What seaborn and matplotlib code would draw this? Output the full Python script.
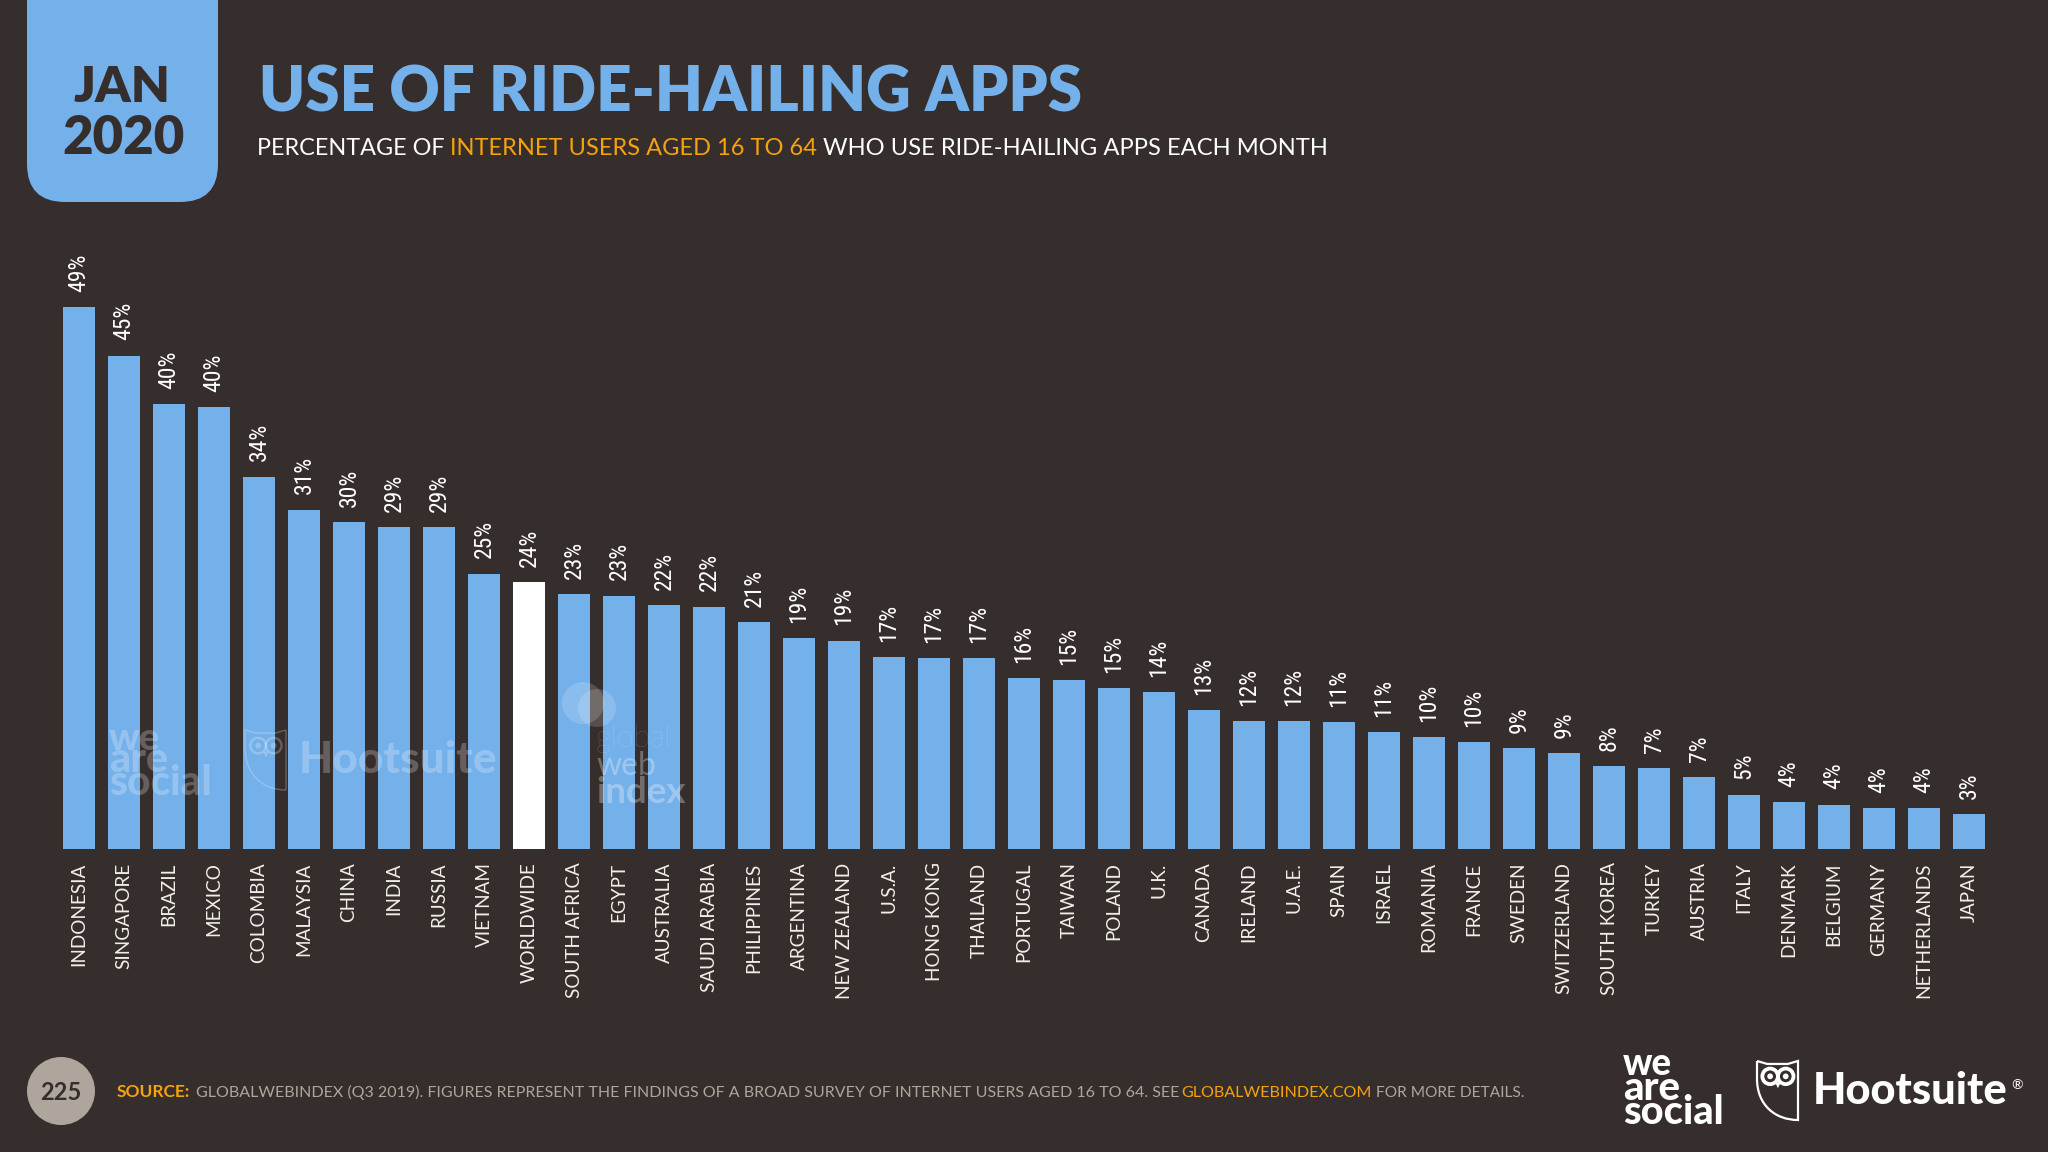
import matplotlib
matplotlib.use('Agg')
import matplotlib.pyplot as plt
from matplotlib.patches import FancyBboxPatch, Circle, PathPatch, Polygon
from matplotlib.path import Path
import seaborn as sns
import pandas as pd

countries = ['INDONESIA','SINGAPORE','BRAZIL','MEXICO','COLOMBIA','MALAYSIA','CHINA','INDIA','RUSSIA','VIETNAM',
             'WORLDWIDE','SOUTH AFRICA','EGYPT','AUSTRALIA','SAUDI ARABIA','PHILIPPINES','ARGENTINA','NEW ZEALAND',
             'U.S.A.','HONG KONG','THAILAND','PORTUGAL','TAIWAN','POLAND','U.K.','CANADA','IRELAND','U.A.E.','SPAIN',
             'ISRAEL','ROMANIA','FRANCE','SWEDEN','SWITZERLAND','SOUTH KOREA','TURKEY','AUSTRIA','ITALY','DENMARK',
             'BELGIUM','GERMANY','NETHERLANDS','JAPAN']
values = [49.2,44.8,40.4,40.1,33.8,30.8,29.7,29.2,29.2,25.0,
          24.2,23.1,23.0,22.1,22.0,20.6,19.1,18.9,17.4,17.3,
          17.3,15.5,15.3,14.6,14.2,12.6,11.6,11.6,11.5,10.6,
          10.1,9.65,9.1,8.65,7.5,7.3,6.5,4.9,4.2,4.0,3.7,3.7,3.1]
value_labels = ['49%','45%','40%','40%','34%','31%','30%','29%','29%','25%',
                '24%','23%','23%','22%','22%','21%','19%','19%','17%','17%',
                '17%','16%','15%','15%','14%','13%','12%','12%','11%','11%',
                '10%','10%','9%','9%','8%','7%','7%','5%','4%','4%','4%','4%','3%']

BG = '#362E2C'
BLUE = '#74B0EA'
ORANGE = '#F5A20F'
GREY = '#AEA69D'
W, H = 2048, 1152

sns.set_theme(style='white')
plt.rcParams['font.family'] = ['Lato', 'DejaVu Sans']

fig = plt.figure(figsize=(20.48, 11.52), dpi=100, facecolor=BG)

# bars: 45px pitch, first centre at x=79, baseline at y=848.5, 11px per percent
ax = fig.add_axes([0, (H - 848.5) / H, 1, 848.5 / H])
ax.set_facecolor('none')
df = pd.DataFrame({'country': countries, 'value': values})
sns.barplot(data=df, x='country', y='value', color=BLUE, saturation=1, width=0.69, linewidth=0, ax=ax)
ax.patches[countries.index('WORLDWIDE')].set_facecolor('white')
ax.set_xlim(-79 / 45, (W - 79) / 45)
ax.set_ylim(0, 848.5 / 11.0)
ax.set_xlabel('')
ax.set_ylabel('')
ax.set_yticks([])
ax.tick_params(axis='x', length=0, pad=10, labelrotation=90, labelsize=13.6, labelcolor='#F2EFEA')
sns.despine(ax=ax, left=True, bottom=True)
ax.bar_label(ax.containers[0], labels=value_labels, rotation=90, padding=11, color='white',
             fontsize=17, fontweight=400, family=['Roboto Condensed', 'DejaVu Sans'])

# overlay in pixel coordinates for header, footer, logos
ov = fig.add_axes([0, 0, 1, 1], zorder=5)
ov.set_xlim(0, W)
ov.set_ylim(H, 0)
ov.axis('off')
rend = fig.canvas.get_renderer()


def fit(s, x0, x1, y, color='white', weight='normal', size=20, alpha=1, zorder=6):
    # put text on baseline y and scale the font until it spans x0..x1
    t = ov.text(x0, y, s, color=color, fontweight=weight, fontsize=size, va='baseline', ha='left',
                alpha=alpha, zorder=zorder)
    t.set_fontsize(size * (x1 - x0) / t.get_window_extent(rend).width)
    return t


# badge
ov.add_patch(FancyBboxPatch((27, -100), 191, 302, boxstyle='round,pad=0,rounding_size=38', fc=BLUE, ec='none'))
fit('JAN', 73, 170, 102, BG, 800)
fit('2020', 62, 184, 154, BG, 800)

# titles
fit('USE OF RIDE-HAILING APPS', 259, 1083, 112, BLUE, 800)
fit('PERCENTAGE OF', 257, 444, 155)
fit('INTERNET USERS AGED 16 TO 64', 450, 817, 155, ORANGE)
fit('WHO USE RIDE-HAILING APPS EACH MONTH', 823, 1329, 155)

# footer
ov.add_patch(Circle((61, 1091), 34, fc=GREY, ec='none'))
ov.text(61, 1092, '225', color=BG, fontsize=17, fontweight='bold', ha='center', va='center')
fit('SOURCE:', 117, 191, 1097, ORANGE, 'bold')
fit('GLOBALWEBINDEX (Q3 2019). FIGURES REPRESENT THE FINDINGS OF A BROAD SURVEY OF INTERNET USERS AGED 16 TO 64. SEE',
    196, 1177, 1097, GREY)
fit('GLOBALWEBINDEX.COM', 1181, 1371, 1097, ORANGE)
fit('FOR MORE DETAILS.', 1376, 1525, 1097, GREY)


def owl(x, y, w, h, alpha=1.0, lw=1.6):
    # outline of the shield with the two ears, plus the eyes and beak
    px = lambda u: x + u * w
    py = lambda v: y + v * h
    verts = [(px(0), py(0)), (px(.25), py(.05)), (px(.5), py(.05)), (px(.75), py(.05)), (px(1), py(0)),
             (px(1), py(1)), (px(.45), py(1)), (px(0), py(.75)), (px(0), py(.3)), (px(0), py(0))]
    codes = [Path.MOVETO, Path.LINETO, Path.LINETO, Path.LINETO, Path.LINETO,
             Path.LINETO, Path.CURVE4, Path.CURVE4, Path.CURVE4, Path.LINETO]
    ov.add_patch(PathPatch(Path(verts, codes), fc='none', ec='white', lw=lw, alpha=alpha, zorder=6))
    for cx in (.32, .70):
        ov.add_patch(Circle((px(cx), py(.26)), w * .19, fc='none', ec='white', lw=lw * 1.7, alpha=alpha, zorder=6))
        ov.add_patch(Circle((px(cx), py(.26)), w * .07, fc='white', ec='none', alpha=alpha, zorder=6))
    ov.add_patch(Polygon([(px(.44), py(.36)), (px(.58), py(.36)), (px(.51), py(.46))], fc='white', ec='none',
                         alpha=alpha, zorder=6))


# logos
fit('we', 1623, 1672, 1075, weight='black')
fit('are', 1623, 1680, 1100, weight='black')
fit('social', 1623, 1724, 1124, weight='black')
owl(1757, 1061, 41, 59)
fit('Hootsuite', 1813, 2009, 1104, weight='black')
ov.text(2017, 1085, '®', color='white', fontsize=10, ha='center', va='center')

# watermarks
wm = 0.24
fit('we', 109, 160, 750, weight='black', alpha=wm)
fit('are', 109, 168, 772, weight='black', alpha=wm)
fit('social', 109, 212, 795, weight='black', alpha=wm)
owl(245, 730, 41, 60, alpha=wm, lw=1)
fit('Hootsuite', 299, 498, 773, weight='black', alpha=wm)
ov.add_patch(Circle((583, 703), 21, fc='white', ec='none', alpha=0.16, zorder=6))
ov.add_patch(Circle((597, 708), 19, fc='white', ec='none', alpha=0.16, zorder=6))
fit('global', 596, 672, 747, alpha=0.3, weight='light')
fit('web', 596, 656, 775, alpha=0.3, weight='normal')
fit('index', 596, 686, 803, alpha=0.3, weight='bold')

fig.savefig('out.png', dpi=100, facecolor=BG)
